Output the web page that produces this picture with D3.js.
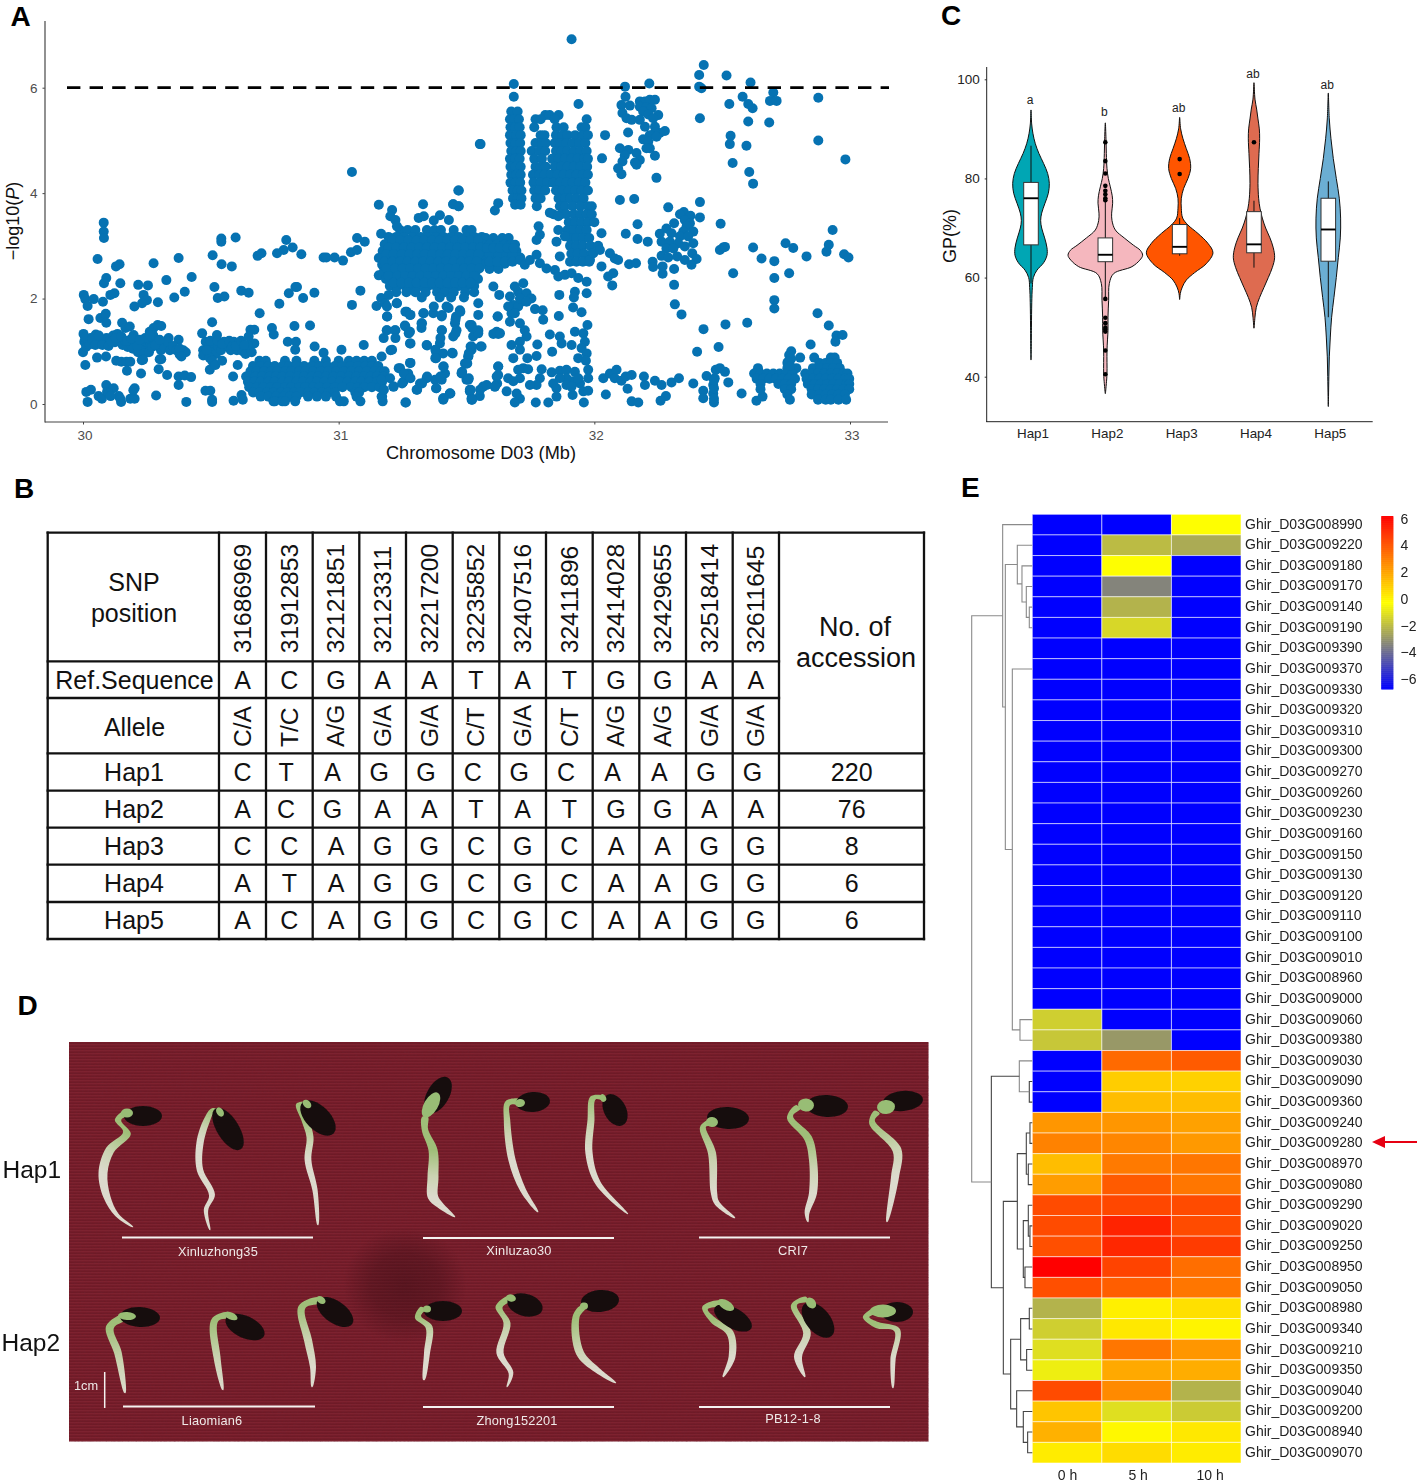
<!DOCTYPE html>
<html><head><meta charset="utf-8">
<script src="https://cdnjs.cloudflare.com/ajax/libs/d3/7.8.5/d3.min.js"></script>
<style>html,body{margin:0;padding:0;background:#fff}svg{display:block}text{font-family:"Liberation Sans",Arial,sans-serif}</style>
</head><body><svg id="fig" width="1421" height="1484" viewBox="0 0 1421 1484"></svg>
<script>
// ---------- PANEL A data: SNP position (kb after 30 Mb) and -log10(P) ----------
const snpLeftSparse=[3,2.07,9,1.99,18,1.86,42,1.99,22,1.61,78,1.94,57,2.75,81,3.44,81,3.27,82,3.15,91,2.39,82,2.29,107,2.07,123,2.1,129,2.61,143,2.65,146,2.29,68,1.63,89,1.71,91,1.54,201,1.85,216,2.26,254,2.25,237,2.07,250,1.97,231,1.91,293,1.93,276,2.67,326,2.35,357,2.02,374,2.77,398,2.13,425,2.41,507,2.82,542,2.65,582,2.61,541,3.14,541,3.08,597,3.16,514,2.22,527,2.01,553,2.04,619,2.15,648,2.11,691,1.72,683,2.81,698,2.86,759,2.86,785,2.92,795,3.11,820,2.97,854,2.84,941,2.78,952,2.78,984,2.78,1017,2.72,1048,2.88,1072,2.92,1072,3.15,1102,3.08,1052,4.4,768,1.9,805,2.1,831,2.22,837,2.22,861,2.01,905,2.11,1052,1.88,1085,2.15,1148,1.86,1166,2.01,1157,2.44,1157,2.77,1166,3.23,1157,3.78,153,1.54,166,1.44,183,1.47,198,1.31,261,1.37,276,1.44,292,1.5,306,1.48,335,1.25,374,1.22,466,1.34,505,1.55,524,1.31,655,1.41,670,1.41,648,1.28,739,1.44,746,1.32,827,1.48,888,1.49,801,1.18,833,1.18,906,1.09,830,1.03,1011,1.03,941,.97,1098,1.12];
const snpLeftBand=[2,1.33,5,1.18,0,.98,12,1.08,20,1.2,30,1.25,40,1.15,50,1.32,58,1.2,70,1.22,82,1.16,92,1.25,105,1.2,118,1.3,125,1.17,135,1.33,145,1.22,155,1.12,165,1.2,175,1.08,185,1.15,195,1.05,205,1.2,215,.98,225,1.12,235,1.2,245,1.08,255,1.22,265,1.15,275,1.3,285,1.2,295,1.1,243,1.25,262,1.3,228,1.02,240,.96,258,.98,305,1.02,318,1.08,330,1.18,340,1.02,352,1.1,365,1.02,378,.94,392,1.02,402,.98,378,1.05,470,1.02,480,1.18,492,1.1,502,1.02,514,1.15,520,.95,530,1.08,540,1.02,552,1.18,565,1.1,578,1.02,590,1.18,602,1.02,612,1.14,625,1.0,636,.95,648,1.08,660,.98,670,1.15,645,1.12,55,.88,90,.9,130,.82,150,.8,170,.8,185,.8,230,.83,300,.85,385,.9,470,.92,495,.88,505,.82,8,1.26,25,1.13,36,1.22,48,1.12,62,1.3,76,1.12,100,1.1,112,1.18,128,1.25,150,1.28,172,1.2,190,1.24,212,1.1,222,1.22,270,1.08,282,1.12,300,1.22,484,1.02,498,1.2,526,1.2,545,1.14,572,1.2,585,1.1,598,1.1,618,1.2,630,1.12];
const snpLeftLow=[18,.04,13,.23,31,.27,61,.15,74,.1,91,.36,94,.23,120,.3,140,.15,149,.04,185,.1,202,.1,202,.3,286,.16,227,.58,172,.63,296,.66,329,.55,374,.36,374,.52,398,.54,423,.51,404,.04,479,.25,498,.25,505,.04,505,.08,496,.65,518,.74,544,.82,605,.74,587,.52,638,.52,620,.17,589,.06,625,.08,9,.74,235,.84,306,.85,100,.2,108,.15,146,.1,197,.26];
const snpBottomRows=[[.82,690,715,790,835,905,950,1000,1040,1070,1100,1130],[.72,665,695,725,750,780,805,835,865,895,925,955,985,1015,1045,1075,1105,1130,1155],[.62,655,680,708,735,760,790,815,845,870,900,930,960,990,1020,1050,1080,1110,1140,1165,1180],[.52,650,675,700,730,755,780,810,840,865,895,920,950,980,1010,1040,1070,1100,1125,1150,1175],[.42,645,670,695,725,750,780,805,835,860,890,915,945,975,1005,1035,1065,1090,1120,1150,1170],[.32,650,680,705,735,760,790,815,845,870,900,925,955,985,1015,1050,1075,1100,1130,1160],[.22,665,690,720,745,775,800,825,850,880,905,935,960,985,1065,1080],[.14,695,725,755,785,810,835,880,915,950,990,1070,1170],[.05,745,750,780,790,830,1005,1020,1085,1172]];
const snpBlockRows=[[3.3,1240,1270,1300,1345,1375,1400,1450,1500,1520],[3.17,1195,1225,1255,1290,1320,1350,1380,1410,1440,1470,1500,1530,1560],[3.03,1180,1210,1240,1270,1300,1330,1360,1390,1420,1450,1480,1510,1540],[2.9,1172,1200,1232,1262,1292,1322,1352,1382,1412,1442,1472,1502,1532,1558],[2.77,1165,1195,1225,1255,1285,1315,1345,1375,1405,1435,1465,1495,1525,1555],[2.64,1170,1200,1230,1260,1290,1320,1350,1380,1410,1440,1470,1500,1530,1558],[2.5,1175,1205,1235,1265,1295,1325,1355,1385,1415,1445,1475,1505,1535],[2.37,1185,1215,1245,1275,1305,1335,1365,1395,1425,1455,1485,1515,1545],[2.24,1200,1230,1260,1290,1320,1350,1380,1410,1440,1470,1500,1530],[2.12,1225,1265,1300,1340,1385,1415,1450,1495,1530],[2.02,1325,1395,1440,1490],[3.15,1575,1605,1640,1665],[3.02,1565,1590,1618,1648,1672,1690],[2.9,1580,1610,1640,1670,1695],[2.78,1578,1605,1635,1665,1695,1710],[2.66,1575,1600,1630,1650],[2.56,1590,1625]];
const snpBlockFill=[[3.1,1210,1240,1272,1305,1335,1365,1395,1425,1455,1485,1515,1545],[2.97,1195,1225,1255,1285,1315,1345,1375,1405,1435,1465,1495,1525,1555],[2.84,1185,1215,1247,1277,1307,1337,1367,1397,1427,1457,1487,1517,1547,1590,1625,1655,1680],[2.7,1180,1210,1240,1270,1300,1330,1360,1390,1420,1450,1480,1510,1540,1590,1620,1650,1680],[2.57,1187,1220,1250,1280,1310,1340,1370,1400,1430,1460,1490,1520,1550],[2.43,1195,1230,1260,1290,1320,1350,1380,1410,1440,1470,1500,1530],[2.3,1215,1245,1275,1305,1335,1365,1395,1425,1455,1485,1515],[2.96,1580,1605,1630,1660,1685]];
const snpColumnRows=[[5.55,1675,1700],[5.4,1670,1688,1705],[5.25,1672,1690,1708],[5.1,1670,1695,1712],[4.95,1672,1690,1710],[4.8,1675,1695,1712],[4.65,1670,1690,1708],[4.5,1672,1692,1712],[4.35,1675,1695,1712],[4.2,1672,1692,1710],[4.05,1680,1700,1715],[3.9,1682,1700,1715],[3.78,1690,1712],[5.48,1808,1825,1860],[5.4,1770,1790,1845,1970],[5.25,1765,1852,1880,1950,1965],[5.1,1790,1805,1850,1875,1895,1925,1955,1975],[4.95,1770,1795,1810,1845,1865,1890,1915,1940,1965],[4.8,1755,1785,1808,1850,1872,1895,1920,1945,1970],[4.65,1765,1795,1835,1860,1885,1910,1935,1960,1975],[4.5,1770,1790,1810,1845,1870,1895,1920,1945,1972],[4.35,1760,1785,1805,1830,1855,1880,1905,1930,1955,1975],[4.2,1762,1790,1815,1840,1865,1890,1915,1940,1965],[4.05,1765,1785,1808,1850,1875,1900,1925,1950,1975],[3.9,1770,1790,1860,1885,1905,1930,1958],[3.75,1775,1865,1885,1915,1945,1975,1990],[3.6,1840,1870,1890,1920,1945,1970,1990],[3.45,1900,1925,1950,1975,2000],[3.3,1895,1920,1945,1970],[3.15,1905,1930,1955,1980],[3.0,1905,1930,1955,1985,2015],[2.85,1910,1935,1960,1990],[2.7,1905,1930,1955,1980]];
const snpMidUpper=[1911,6.92,1685,6.07,1685,5.83,1938,5.69,1555,4.93,1468,4.05,1448,3.79,1468,3.75,1624,3.81,1611,3.67,2042,5.1,2030,4.66,2120,6.02,2122,5.83,2106,5.67,2139,5.66,2110,5.52,2126,5.42,2146,5.39,2132,5.15,2215,6.08,2178,5.74,2198,5.74,2217,5.77,2237,5.77,2178,5.64,2202,5.63,2224,5.61,2250,5.48,2191,5.55,2211,5.49,2230,5.42,2178,5.39,2198,5.26,2237,5.26,2276,5.18,2256,5.14,2237,5.15,2217,5.1,2191,5.02,2211,4.98,2243,5.07,2100,4.85,2133,4.82,2119,4.72,2110,4.6,2093,4.47,2106,4.36,2165,4.76,2178,4.63,2159,4.58,2165,4.54,2217,4.85,2204,4.85,2237,4.71,2243,4.29,2100,3.87,2156,3.89,2289,3.73,2413,3.83,2413,3.54,2494,3.42,2169,3.41,2123,3.23,2169,3.13,2209,3.08,2028,3.24,2350,3.64,2376,3.57,2335,3.6,2312,3.43,2354,3.49,2374,3.43,2361,3.37,2387,3.27,2348,3.27,2282,3.33,2256,3.23,2302,3.24,2335,3.18,2367,3.18,2263,3.08,2295,3.08,2328,3.05,2387,3.05,2282,2.95,2309,2.95,2354,2.99,2383,2.86,2263,2.81,2289,2.78,2324,2.8,2400,2.75,2354,2.73,2380,2.64,2228,2.7,2230,2.6,2267,2.61,2267,2.47,2312,2.56,2312,2.26,2315,1.89,2341,1.7,2427,1.42,2136,2.65,2163,2.67];
const snpRightSparse=[2513,1.51,2598,1.54,2402,.99,2486,1.08,2491,2.92,2504,2.97,2511,2.98,2543,2.48,2621,2.97,2654,2.76,2704,2.71,2704,2.39,2748,3.05,2778,2.96,2762,2.48,2830,2.8,2704,1.97,2704,1.81,2932,3.3,2917,3.02,2908,2.89,2977,2.84,2994,2.78,2873,1.72,2917,1.49,2947,1.3,2971,1.31,2943,1.18,2846,1.13,2428,6.43,2410,6.24,2410,6.02,2419,5.99,2517,6.23,2611,6.1,2700,5.91,2687,5.75,2713,5.75,2876,5.81,2580,5.83,2528,5.69,2602,5.69,2619,5.61,2413,5.42,2602,5.36,2684,5.34,2533,5.09,2530,4.93,2595,4.9,2541,4.57,2606,4.4,2621,4.18,2876,5,2982,4.64];
const snpBandMid=[1709,2.73,1728,2.64,1748,2.73,1774,2.83,1787,2.67,1813,2.57,1846,2.54,1865,2.8,1859,2.42,1885,2.45,1911,2.48,1937,2.39,1970,2.32,1983,2.73,1996,2.86,2022,2.92,2061,2.86,2080,2.76,2093,2.73,2028,2.61,2054,2.42,2074,2.48,2070,2.25,1782,3.37,1787,3.21,1774,3.11,1859,3.3,1852,3.08,1885,3.18,1826,3.63,1859,3.56,1670,2.04,1702,2.13,1735,2.1,1754,2,1683,1.88,1715,1.94,1676,1.72,1702,1.85,1768,1.8,1798,1.78,1670,1.56,1709,1.53,1800,1.6,1863,2.07,1924,2.13,1970,2.1,1920,2.02,1861,1.67,1917,1.83,1950,1.74,1973,1.5,1622,1.66,1689,2.23,1722,2.29,1663,1.85,1709,2,1735,1.94,1689,1.72,1728,1.4,1735,1.28,1709,1.18,1676,1.12,1709,1.03,1738,.87,1683,.87,1777,1.13,1774,.91,1835,.99,1826,1.32,1865,1.28,1872,1.15,1911,1.12,1924,1.37,1957,1.34,1963,1.18,1950,1.06,1970,.96,1937,.87,1967,.82,1624,1.33,1605,1.33,1555,1.09,1513,1.5,1546,1.37,1526,1.28,1520,1.03,1507,.9,1494,.77];
const snpMidLowest=[1702,.65,1722,.68,1741,.66,1794,.66,1833,.6,1865,.63,1891,.65,1924,.61,1976,.65,1976,.49,1944,.39,1917,.43,1891,.49,1865,.49,1839,.39,1787,.49,1774,.36,1748,.36,1709,.49,1663,.49,1624,.71,1618,.52,1611,.33,1565,.33,1552,.15,1513,.24,1520,.08,1500,.46,1481,.58,1416,.58,1396,.49,1435,.2,1409,.11,1657,.24,1696,.2,1709,.1,1689,.03,1771,.03,1820,.03,1852,.14,1852,.3,1915,.17,1957,.24,1959,.03,1976,.25,1891,.36,1911,.33,1937,.49,1683,.43,2035,.49,2061,.58,2087,.65,2080,.49,2106,.44,2123,.52,2146,.55,2194,.52,2198,.36,2237,.44,2263,.36,2130,.29,2045,.18,2146,.05,2172,.03,2280,.15,2259,.06,2302,.41,2331,.49,2387,.39,2439,.53,2426,.25,2426,.11,2465,.2,2468,.03,2475,.65,2491,.68,2511,.61,2471,.49,2465,.36,2524,.41,2576,.2,2634,.06,2658,.14,2468,.1,2468,.3,2468,.45];
const snpBlockLower=[1190,1.66,1181,1.91,1227,1.91,1266,1.75,1279,1.69,1331,1.72,1370,1.72,1403,1.66,1422,1.85,1474,1.78,1459,1.66,1455,1.53,1546,1.91,1546,1.69,1622,1.66,1605,2.23,1628,2.07,1188,1.4,1220,1.4,1259,1.49,1279,1.37,1279,1.15,1324,1.53,1324,1.44,1344,1.12,1403,1.4,1396,1.15,1381,.99,1409,.96,1446,.96,1381,.87,1448,1.28,1461,1.4,1520,1.5,1546,1.4,1546,1.34,1520,1.09,1559,1.09,1507,.9,1500,.77,1481,.59,1507,.46,1513,.27,1520,.11,1553,.27,1579,.36,1618,1.37,1631,1.34,1620,.39,1611,.33,1624,.71,1624,.55,1203,1.02,1279,.78,1240,.68,1272,.58,1253,.42,1214,.33,1318,.39,1305,.27,1344,.49,1377,.46,1409,.71,1403,.46,1381,.3,1435,.2,1409,.08,1263,.03,1168,.9,1168,.46,1168,.14,1201,.49,1177,.27,1261,.03,1215,.33,1209,1.03,1176,1.25,1189,1.4,1222,1.4,1222,1.25,1261,1.47,1274,1.34,1281,1.15,1281,.78,1235,.68,1255,.58,1281,.49,1248,.39,1346,1.11,1378,1.03,1378,.87,1411,.71,1444,.97,1398,.52,1346,.52,1307,.27,1326,.39,1382,.3,1437,.2,1411,.11,1483,.61,1509,.49,1516,.27,1522,.08,1404,1.4,1398,1.25,1457,1.34,1522,1.44,1516,1.09,1503,.77,1509,.96,1261,1.75,1281,1.69,1333,1.72,1326,1.53,1372,1.85,1404,1.69,1430,1.82,1457,1.6,1476,1.75,1189,1.66,1228,1.91,1189,1.85,1196,2.07,1209,3.68,1202,3.56,1222,3.49,1228,3.37,1330,3.79,1313,3.53,1333,3.56,1372,3.48,1396,3.58,1431,3.49,1448,3.79,1470,3.75,1470,4.05,1552,4.93];
const snpRightRows=[[.88,2805,2860,2925,2940],[.78,2755,2880,2905,2925,2950],[.68,2640,2755,2790,2855,2885,2910,2935,2960],[.58,2625,2650,2675,2700,2725,2750,2775,2825,2850,2875,2900,2925,2950,2975,2990],[.48,2635,2660,2685,2710,2735,2760,2785,2830,2855,2880,2905,2930,2955,2980,2997],[.38,2650,2720,2745,2770,2835,2860,2885,2910,2935,2960,2985,2997],[.28,2650,2745,2770,2850,2875,2900,2925,2950,2975,2997],[.18,2755,2850,2880,2905,2930,2955,2980],[.08,2765,2875,2905,2925,2955,2985]];
const snpRightCol=[2770,1.0,2762,.93,2770,.86,2758,.8,2766,.72];
const gwasThreshold=6;
const xTicksA=[30,31,32,33], yTicksA=[0,2,4,6];

// ---------- PANEL C data ----------
const haps=["Hap1","Hap2","Hap3","Hap4","Hap5"];
const hapColors=["#00A6B4","#F5B7BE","#FF5500","#DE6B50","#6BAED3"];
const hapLetters=["a","b","ab","ab","ab"];
const letterGP=[95,92.5,93.5,100.2,98];
const viol1=[[93.8,1],[91,6],[89,18],[87,39],[85,72],[83,114],[81,150],[79,165],[77,156],[75,126],[73,96],[71.5,87],[70,96],[68,123],[66,144],[64.5,144],[63,114],[61.5,54],[60,21],[58,12],[55,7],[50,4],[45,2],[43.4,1]];
const viol2=[[91.2,1],[88,6],[85,9],[82,15],[80,27],[78.3,45],[76.5,62],[75,66],[73,57],[71.5,60],[69.6,90],[68,170],[66.5,255],[65.5,315],[64.5,336],[63.5,310],[62.2,240],[60.8,75],[58.8,36],[55.4,30],[52,24],[49.4,24],[45.3,15],[40.6,15],[38.6,9],[36.6,1]];
const viol3=[[92.3,1],[90,9],[88,30],[86,60],[84,90],[82,99],[80,75],[78,36],[76,15],[74,15],[72,27],[70.6,75],[68.9,165],[66.9,255],[65,300],[62.8,240],[61,135],[59.5,60],[58.1,24],[56.8,6],[55.6,1]];
const viol4=[[99.3,1],[96,9],[94,24],[92,36],[90,48],[88,51],[85,45],[82,39],[79,36],[76,42],[74,54],[72,75],[70,105],[68,144],[66,174],[64,186],[62,165],[60,129],[58,90],[56,51],[54,21],[52,9],[49.8,1]];
const viol5=[[97.2,1],[92,9],[88,24],[84,45],[80,72],[76,99],[72,111],[68,108],[64,90],[60,72],[56,51],[52,30],[48,18],[44,9],[40,5],[36,2],[34,1]];
const hapQ1=[66.6,63.2,64.8,65,63.3], hapMed=[76,64.6,66.2,66.7,69.7], hapQ3=[79.2,68,70.7,73.3,76];
const hapLow=[58.8,56,64.4,62,52], hapHigh=[86.6,75.4,72,75.5,79.4];
const hap2Out=[87.3,83.5,81,78.5,77.5,76.8,76,75.6,55.7,51.9,50.8,49.9,49.5,49.1,45.3,40.5];
const hap3Out=[83.9,80.9], hap4Out=[87.3];
const yTicksC=[40,60,80,100];

// ---------- PANEL B data ----------
const snpPositions=["31686969","31912853","32121851","32123311","32217200","32235852","32407516","32411896","32414028","32429655","32518414","32611645"];
const refSeq=["A","C","G","A","A","T","A","T","G","G","A","A"];
const alleles=["C/A","T/C","A/G","G/A","G/A","C/T","G/A","C/T","A/G","A/G","G/A","G/A"];
const hapNames=["Hap1","Hap2","Hap3","Hap4","Hap5"];
const hap1Seq=["C","T","A","G","G","C","G","C","A","A","G","G"];
const hap2Seq=["A","C","G","A","A","T","A","T","G","G","A","A"];
const hap3Seq=["C","C","A","G","G","C","G","C","A","A","G","G"];
const hap4Seq=["A","T","A","G","G","C","G","C","A","A","G","G"];
const hap5Seq=["A","C","A","G","G","C","G","C","A","A","G","G"];
const accessions=["220","76","8","6","6"];

// ---------- PANEL E data ----------
const geneIds=["008990","009220","009180","009170","009140","009190","009390","009370","009330","009320","009310","009300","009270","009260","009230","009160","009150","009130","009120","009110","009100","009010","008960","009000","009060","009380","009030","009090","009360","009240","009280","008970","009080","009290","009020","009250","008950","009050","008980","009340","009210","009350","009040","009200","008940","009070"];
const L=-6.75;
const expr0h=[L,L,L,L,L,L,L,L,L,L,L,L,L,L,L,L,L,L,L,L,L,L,L,L,-1.5,-1.7,L,L,L,2.4,2.9,1.4,2.2,4.3,4.3,4.2,6.2,4.2,-2.2,-1.5,-1.1,-.7,4.3,1.2,1.7,.2];
const expr5h=[L,-2,-.3,-3.4,-2.2,-1.3,L,L,L,L,L,L,L,L,L,L,L,L,L,L,L,L,L,L,L,-2.9,3.5,1,1.4,2.4,2.8,3.1,3.9,4.4,5.3,5.2,4.5,3.8,.1,.3,3.2,1.9,2.7,-1.1,-.1,.6];
const expr10h=[-.3,-2.4,L,L,L,L,L,L,L,L,L,L,L,L,L,L,L,L,L,L,L,L,L,L,L,L,3.9,.9,1.4,2.1,2.3,3.2,3.2,4.3,4.3,4.7,3.4,3.2,.5,0,2.4,1.8,-2.2,-1.6,.3,.2];
const hourLabels=["0 h","5 h","10 h"];
const legendTicks=[6,4,2,0,-2,-4,-6];
const dendroTree=[182,
 [89,"008990",[81,
   [45,"009220",[31,"009180",[18,"009170",[9,"009140","009190"]]]],
   [60,"009370",[37,"009060","009380"]]]],
 [123,
   [39,"009030",[9,"009090","009360"]],
   [87,
     [45,[18,[7,"009240","009280"],[12,"008970","009080"]],[27,[12,"009290",[7,"009020","009250"]],[22,"008950","009050"]]],
     [65,[35,[9,"008980","009340"],[17,"009210","009350"]],[47,"009040",[27,"009200",[14,"008940","009070"]]]]]]];

// ---------- PANEL D illustration (seedling outlines) ----------
const seedlings=[
 {s:[143,1116,19,10,0],c:[127,1113,6,4.5],r:[[128,1112,3],[118,1120,3.2],[127,1133,4],[110,1150,4.5],[103,1173,4.5],[107,1197,3.5],[117,1215,2],[133,1227,.4]],g:2},
 {s:[228,1129,24,11,58],c:[220,1112,5,3.5],r:[[223,1115,2.5],[213,1111,3],[207,1120,3.2],[200,1143,3.6],[200,1170,3.2],[212,1195,3],[206,1210,2.2],[210,1230,.4]],g:1},
 {s:[318,1118,22,12,45],c:[307,1104,5,3.5],r:[[310,1105,2.5],[299,1105,3],[305,1120,3.5],[310,1137,3.5],[308,1160,3.4],[315,1190,2.6],[318,1225,.5]],g:2},
 {s:[438,1095,20,11,-60],c:[431,1105,14,7],r:[[425,1117,3],[425,1130,3.2],[433,1150,4.5],[433,1177,5.5],[433,1197,5.2],[440,1205,3.5],[455,1217,.4]],g:2},
 {s:[533,1102,17,10,-5],c:[520,1103,5,4],r:[[523,1102,2.5],[508,1103,3],[507,1120,3.2],[512,1160,3.6],[523,1190,3],[538,1212,.5]],g:1},
 {s:[615,1110,17,11,62],c:[603,1098,4,3],r:[[603,1098,2],[593,1098,3],[591,1120,3.5],[589,1153,3.6],[598,1183,2.8],[628,1214,.3]],g:1},
 {s:[728,1118,21,11,3],c:[712,1122,6,5],r:[[710,1123,3],[703,1127,3],[712,1153,4],[714,1193,3.2],[717,1203,2.6],[735,1218,.4]],g:1},
 {s:[827,1106,21,11,3],c:[806,1105,8,6.5],r:[[798,1107,3],[790,1117,3.2],[808,1138,4],[813,1160,4],[813,1193,4],[807,1213,2.4],[808,1222,.5]],g:2},
 {s:[903,1101,20,10,-5],c:[886,1107,9,7],r:[[877,1112,3],[872,1122,3.2],[897,1150,4.5],[895,1177,4],[887,1222,.5]],g:1},
 {s:[140,1317,20,10,3],c:[127,1316,9,4],r:[[127,1316,3],[110,1327,4],[118,1353,3.8],[125,1393,.6]],g:1},
 {s:[245,1327,21,11,25],c:[231,1316,7,3.5],r:[[230,1315,3],[215,1320,3.5],[217,1357,3.5],[223,1390,.5]],g:1},
 {s:[335,1312,21,11,35],c:[321,1300,5,3.5],r:[[320,1300,3],[302,1307,3.6],[308,1340,4],[313,1367,3],[312,1387,.5]],g:1},
 {s:[443,1311,19,10,0],c:[427,1309,4,3.5],r:[[423,1308,2.6],[418,1317,3.2],[429,1327,3.5],[427,1353,3],[424,1380,.8]],g:1},
 {s:[525,1305,18,11,15],c:[511,1298,5,3.5],r:[[510,1298,2.6],[499,1307,3.5],[507,1323,3.5],[500,1353,3.6],[511,1373,2.4],[507,1387,.4]],g:1},
 {s:[600,1301,19,11,-5],c:[584,1306,4,3.5],r:[[583,1307,2.6],[576,1317,3.5],[580,1353,4],[597,1370,3],[616,1383,.4]],g:1},
 {s:[733,1318,21,10,30],c:[726,1305,9,4.5],r:[[720,1303,2.6],[705,1308,3],[713,1320,3.2],[730,1333,3.6],[732,1357,3.4],[723,1377,.5]],g:2},
 {s:[818,1320,21,12,50],c:[811,1303,6,4.5],r:[[807,1299,2.6],[794,1305,3],[807,1333,3.8],[798,1357,4],[805,1377,.5]],g:1},
 {s:[897,1312,16,10,0],c:[883,1311,13,6.5],r:[[877,1310,2.6],[866,1317,3.2],[877,1325,3.2],[897,1330,3],[893,1360,2.6],[893,1388,.5]],g:2}
];
const accessionLabels=[["Xinluzhong35",218,1256],["Xinluzao30",519,1255],["CRI7",793,1255],["Liaomian6",212,1425],["Zhong152201",517,1425],["PB12-1-8",793,1423]];
const accessionBars=[[122,313,1237.5],[423,614,1238],[699,890,1237.5],[123,315,1406.5],[423,614,1407],[699,890,1407]];

// ---------- drawing ----------
const svg=d3.select("#fig");
const defs=svg.append("defs");
const font='"Liberation Sans",Arial,sans-serif';
const pairs=a=>d3.range(0,a.length,2).map(i=>[a[i],a[i+1]]);
const rows=a=>a.flatMap(r=>r.slice(1).map(k=>[k,r[0]]));
function panelLetter(t,x,y){svg.append("text").attr("x",x).attr("y",y).attr("font-size",28).attr("font-weight",700).attr("fill","#000").text(t);}
panelLetter("A",10.5,25.5);panelLetter("B",14,498);panelLetter("C",941,25);panelLetter("D",17.5,1015);panelLetter("E",961,497);

// Panel A
(function(){
 const x=d3.scaleLinear().domain([0,3000]).range([83,850]);
 const y=d3.scaleLinear().domain([0,6]).range([404,87.7]);
 const pts=[].concat(pairs(snpLeftSparse),pairs(snpLeftBand),pairs(snpLeftLow),rows(snpBottomRows),rows(snpBlockRows),rows(snpBlockFill),rows(snpColumnRows),pairs(snpMidUpper),pairs(snpRightSparse),pairs(snpBandMid),pairs(snpMidLowest),pairs(snpBlockLower),rows(snpRightRows),pairs(snpRightCol));
 const g=svg.append("g");
 g.append("g").selectAll("circle").data(pts).join("circle").attr("cx",d=>x(d[0])).attr("cy",d=>y(d[1])).attr("r",5).attr("fill","#0672B2");
 g.append("line").attr("x1",67).attr("x2",889).attr("y1",y(gwasThreshold)).attr("y2",y(gwasThreshold)).attr("stroke","#000").attr("stroke-width",2.7).attr("stroke-dasharray","13.4 9.2");
 const ax=g.append("g").attr("transform","translate(0,422)").call(d3.axisBottom(d3.scaleLinear().domain([30,33]).range([83,850])).tickValues(xTicksA).tickFormat(d3.format("d")).tickSize(2.5).tickPadding(6));
 ax.select(".domain").remove();ax.selectAll("line").attr("stroke","#444");ax.selectAll("text").attr("font-family",font).attr("font-size",13.5).attr("fill","#4d4d4d").attr("dx",1.5);
 const ay=g.append("g").attr("transform","translate(45,0)").call(d3.axisLeft(y).tickValues(yTicksA).tickFormat(d3.format("d")).tickSize(2.5).tickPadding(5));
 ay.select(".domain").remove();ay.selectAll("line").attr("stroke","#444");ay.selectAll("text").attr("font-family",font).attr("font-size",13.5).attr("fill","#4d4d4d");
 g.append("line").attr("x1",45).attr("x2",45).attr("y1",21).attr("y2",422.5).attr("stroke","#555").attr("stroke-width",1.3);
 g.append("line").attr("x1",45).attr("x2",888).attr("y1",422).attr("y2",422).attr("stroke","#444").attr("stroke-width",1.1);
 g.append("text").attr("x",481).attr("y",459).attr("text-anchor","middle").attr("font-size",18.2).attr("fill","#111").text("Chromosome D03 (Mb)");
 const yl=g.append("text").attr("transform","translate(18.5,221) rotate(-90)").attr("text-anchor","middle").attr("font-size",18).attr("fill","#111");
 yl.append("tspan").text("\u2212log10(");yl.append("tspan").attr("font-style","italic").text("P");yl.append("tspan").text(")");
})();

// Panel C
(function(){
 const x=d3.scalePoint().domain(haps).range([1031,1328.3]);
 const y=d3.scaleLinear().domain([40,100]).range([376.7,79.3]);
 const w=d3.scaleLinear().domain([0,336]).range([0,37.3]);
 const g=svg.append("g");
 const viols=[viol1,viol2,viol3,viol4,viol5];
 viols.forEach((v,i)=>{
  const cx=x(haps[i]);
  g.append("path").datum(v).attr("d",d3.area().y(d=>y(d[0])).x0(d=>cx-w(d[1])).x1(d=>cx+w(d[1])).curve(d3.curveCatmullRom)).attr("fill",hapColors[i]).attr("stroke","#111").attr("stroke-width",1);
  g.append("line").attr("x1",cx).attr("x2",cx).attr("y1",y(hapHigh[i])).attr("y2",y(hapLow[i])).attr("stroke","#111").attr("stroke-width",1);
  g.append("rect").attr("x",cx-7.3).attr("width",14.6).attr("y",y(hapQ3[i])).attr("height",y(hapQ1[i])-y(hapQ3[i])).attr("fill","#fff").attr("stroke","#333").attr("stroke-width",1);
  g.append("line").attr("x1",cx-7.3).attr("x2",cx+7.3).attr("y1",y(hapMed[i])).attr("y2",y(hapMed[i])).attr("stroke","#000").attr("stroke-width",1.9);
  g.append("text").attr("x",cx-1).attr("y",y(letterGP[i])).attr("text-anchor","middle").attr("font-size",12).attr("fill","#222").text(hapLetters[i]);
 });
 [[haps[1],hap2Out],[haps[2],hap3Out],[haps[3],hap4Out]].forEach(([h,o])=>{
  g.append("g").selectAll("circle").data(o).join("circle").attr("cx",x(h)).attr("cy",d=>y(d)).attr("r",2.3).attr("fill","#000");
 });
 const ax=g.append("g").attr("transform","translate(1.5,421.7)").call(d3.axisBottom(x).tickSize(0).tickPadding(7));
 ax.select(".domain").remove();ax.selectAll("text").attr("font-family",font).attr("font-size",13.4).attr("fill","#222");
 const ay=g.append("g").attr("transform","translate(986.7,0)").call(d3.axisLeft(y).tickValues(yTicksC).tickSize(2).tickPadding(5));
 ay.select(".domain").remove();ay.selectAll("line").attr("stroke","#333");ay.selectAll("text").attr("font-family",font).attr("font-size",13.5).attr("fill","#222");
 g.append("line").attr("x1",986.7).attr("x2",986.7).attr("y1",67).attr("y2",422).attr("stroke","#222").attr("stroke-width",1);
 g.append("line").attr("x1",986.2).attr("x2",1372.7).attr("y1",421.7).attr("y2",421.7).attr("stroke","#222").attr("stroke-width",1);
 g.append("text").attr("transform","translate(956,236) rotate(-90)").attr("text-anchor","middle").attr("font-size",18).attr("fill","#111").text("GP(%)");
})();

// Panel B
(function(){
 const g=svg.append("g");
 const vx=[47.7,219,266,312.7,359.3,406,452.7,499.3,546,592.7,639.3,686,732.7,779,924];
 const hy=[532.7,661.3,698,753.3,790.7,827.7,864.7,902,939];
 const stroke=(a,b,c,d)=>g.append("line").attr("x1",a).attr("y1",b).attr("x2",c).attr("y2",d).attr("stroke","#111").attr("stroke-width",2.3).attr("stroke-linecap","square");
 vx.forEach((v,i)=>stroke(v,532.7,v,939));
 hy.forEach((h,i)=>{ if(i===1||i===2) stroke(47.7,h,779,h); else stroke(47.7,h,924,h); });
 const cx=i=>(vx[i+1]+vx[i+2])/2;
 const t=(s,x,y,fs=25)=>g.append("text").attr("x",x).attr("y",y).attr("text-anchor","middle").attr("font-size",fs).attr("fill","#111").text(s);
 t("SNP",134,590.5);t("position",134,622);t("Ref.Sequence",134.5,688.5);t("Allele",134.5,735.5);
 snpPositions.forEach((s,i)=>g.append("text").attr("transform",`translate(${cx(i)+8.3},653.3) rotate(-90)`).attr("font-size",24.6).attr("fill","#111").text(s));
 alleles.forEach((s,i)=>g.append("text").attr("transform",`translate(${cx(i)+8.3},747) rotate(-90)`).attr("font-size",24.6).attr("fill","#111").text(s));
 refSeq.forEach((s,i)=>t(s,cx(i),689));
 const seqs=[hap1Seq,hap2Seq,hap3Seq,hap4Seq,hap5Seq],base=[781,818,855,892,929];
 const shift=(r,i)=>r===0?(i===0?0:-3.3):(r===1&&(i===1||i===2)?-3.4:0);
 hapNames.forEach((h,r)=>{t(h,134,base[r]);seqs[r].forEach((s,i)=>t(s,cx(i)+shift(r,i),base[r]));t(accessions[r],851.7,base[r]);});
 t("No. of",855,635.5,27);t("accession",856,667,27);
})();

// Panel D
(function(){
 const g=svg.append("g");
 const pat=defs.append("pattern").attr("id","cloth").attr("patternUnits","userSpaceOnUse").attr("width",4).attr("height",3);
 pat.append("rect").attr("width",4).attr("height",3).attr("fill","#761c29");
 pat.append("rect").attr("width",4).attr("height",.9).attr("fill","#80222f");
 pat.append("rect").attr("y",1.9).attr("width",4).attr("height",.8).attr("fill","#6c1824");
 const f=defs.append("filter").attr("id","blotch").attr("x",0).attr("y",0).attr("width",1).attr("height",1);
 f.append("feTurbulence").attr("type","fractalNoise").attr("baseFrequency","0.5 0.9").attr("numOctaves",2).attr("seed",4);
 f.append("feColorMatrix").attr("values","0 0 0 0 0.15  0 0 0 0 0.02  0 0 0 0 0.04  0.9 0 0 0 -0.32");
 const spot=defs.append("radialGradient").attr("id","spot");
 spot.append("stop").attr("offset","0").attr("stop-color","#300a10").attr("stop-opacity",.42);
 spot.append("stop").attr("offset","0.55").attr("stop-color","#300a10").attr("stop-opacity",.3);
 spot.append("stop").attr("offset","1").attr("stop-color","#300a10").attr("stop-opacity",0);
 const soft=defs.append("filter").attr("id","soft");soft.append("feGaussianBlur").attr("stdDeviation",.4);
 g.append("rect").attr("x",69).attr("y",1042).attr("width",859.5).attr("height",399.5).attr("fill","url(#cloth)");
 g.append("rect").attr("x",69).attr("y",1042).attr("width",859.5).attr("height",399.5).attr("filter","url(#blotch)").attr("opacity",.6);
 g.append("ellipse").attr("cx",405).attr("cy",1285).attr("rx",62).attr("ry",58).attr("fill","url(#spot)");
 const ls=d3.line().curve(d3.curveCatmullRomClosed);
 const ribbon=r=>{
  const n=r.length,a=[],b=[];
  r.forEach((p,i)=>{const q0=r[Math.max(i-1,0)],q1=r[Math.min(i+1,n-1)];let dx=q1[0]-q0[0],dy=q1[1]-q0[1];const l=Math.hypot(dx,dy)||1;dx/=l;dy/=l;a.push([p[0]-dy*p[2],p[1]+dx*p[2]]);b.unshift([p[0]+dy*p[2],p[1]-dx*p[2]]);});
  return ls(a.concat(b));
 };
 const pl=g.append("g").attr("filter","url(#soft)");
 seedlings.forEach((d,i)=>{
  const a=d.r[d.g],b=d.r[Math.min(d.g+2,d.r.length-1)];
  const gr=defs.append("linearGradient").attr("id","root"+i).attr("gradientUnits","userSpaceOnUse").attr("x1",a[0]).attr("y1",a[1]).attr("x2",b[0]).attr("y2",b[1]);
  gr.append("stop").attr("offset",0).attr("stop-color","#9fbf78");
  gr.append("stop").attr("offset",.55).attr("stop-color","#cbd3b2");
  gr.append("stop").attr("offset",1).attr("stop-color","#dcdacd");
  pl.append("path").attr("d",ribbon(d.r)).attr("fill",`url(#root${i})`);
  pl.append("ellipse").attr("cx",d.s[0]).attr("cy",d.s[1]).attr("rx",d.s[2]).attr("ry",d.s[3]).attr("transform",`rotate(${d.s[4]} ${d.s[0]} ${d.s[1]})`).attr("fill","#150d0e");
  pl.append("ellipse").attr("cx",d.c[0]).attr("cy",d.c[1]).attr("rx",d.c[2]).attr("ry",d.c[3]).attr("transform",`rotate(${d.s[4]} ${d.c[0]} ${d.c[1]})`).attr("fill","#98bd75");
 });
 accessionBars.forEach(b=>g.append("line").attr("x1",b[0]).attr("x2",b[1]).attr("y1",b[2]).attr("y2",b[2]).attr("stroke","#f4f2f0").attr("stroke-width",2));
 accessionLabels.forEach(l=>g.append("text").attr("x",l[1]).attr("y",l[2]).attr("text-anchor","middle").attr("font-size",12.8).attr("letter-spacing",.2).attr("fill","#efe9e8").text(l[0]));
 g.append("line").attr("x1",104.7).attr("x2",104.7).attr("y1",1372).attr("y2",1408).attr("stroke","#f4f2f0").attr("stroke-width",1.5);
 g.append("text").attr("x",86).attr("y",1390).attr("text-anchor","middle").attr("font-size",12.8).attr("fill","#efe9e8").text("1cm");
 g.append("text").attr("x",2.5).attr("y",1178).attr("font-size",24.5).attr("fill","#111").text("Hap1");
 g.append("text").attr("x",1.5).attr("y",1351).attr("font-size",24.5).attr("fill","#111").text("Hap2");
})();

// Panel E
(function(){
 const g=svg.append("g");
 const x=d3.scaleBand().domain(hourLabels).range([1032.3,1241]);
 const y=d3.scaleBand().domain(geneIds).range([514.3,1463]);
 const color=d3.scaleLinear().domain([-6.75,-.28,6.2]).range(["#0000ff","#ffff00","#ff0000"]).clamp(true);
 const series=[expr0h,expr5h,expr10h];
 hourLabels.forEach((h,c)=>{
  g.append("g").selectAll("rect").data(series[c]).join("rect").attr("x",x(h)).attr("width",x.bandwidth()).attr("y",(d,i)=>y(geneIds[i])).attr("height",y.bandwidth()).attr("fill",d=>color(d)).attr("stroke","#fff").attr("stroke-opacity",.55).attr("stroke-width",1);
  g.append("text").attr("x",x(h)+x.bandwidth()/2+[0.5,1.5,4][c]).attr("y",1480).attr("text-anchor","middle").attr("font-size",14).attr("fill","#222").text(h);
 });
 geneIds.forEach(id=>g.append("text").attr("x",1245).attr("y",y(id)+y.bandwidth()/2+4).attr("font-size",14).attr("fill","#222").text("Ghir_D03G"+id));
 // dendrogram: upper subtree grey, lower subtree dark
 const hx=d3.scaleLinear().domain([0,182]).range([1032.3,971.7]);
 const grey="#8a8a8a",dark="#444";
 function walk(n,col){
  if(typeof n==="string") return {h:0,y:y(n)+y.bandwidth()/2};
  const a=walk(n[1],col),b=walk(n[2],n[0]===182?dark:col);
  g.append("path").attr("d",`M${hx(a.h)},${a.y}H${hx(n[0])}V${b.y}H${hx(b.h)}`).attr("fill","none").attr("stroke",n[0]===39?grey:col).attr("stroke-width",1.1);
  return {h:n[0],y:(a.y+b.y)/2};
 }
 walk(dendroTree,grey);
 // legend
 const ly=d3.scaleLinear().domain([6,-6]).range([518.7,679]);
 g.append("g").selectAll("rect").data(d3.range(6.2,-6.75,-.05)).join("rect").attr("x",1381.3).attr("width",12).attr("y",d=>ly(d)).attr("height",1.2).attr("fill",d=>color(d));
 legendTicks.forEach(v=>g.append("text").attr("x",1400.5).attr("y",ly(v)+5).attr("font-size",14).attr("fill","#222").text(v<0?"\u2212"+(-v):v));
 // arrow
 g.append("line").attr("x1",1417).attr("x2",1382).attr("y1",1142).attr("y2",1142).attr("stroke","#e60012").attr("stroke-width",2.2);
 g.append("path").attr("d",d3.line()([[1372,1142],[1385,1136],[1385,1148]])+"Z").attr("fill","#e60012");
})();
</script></body></html>
